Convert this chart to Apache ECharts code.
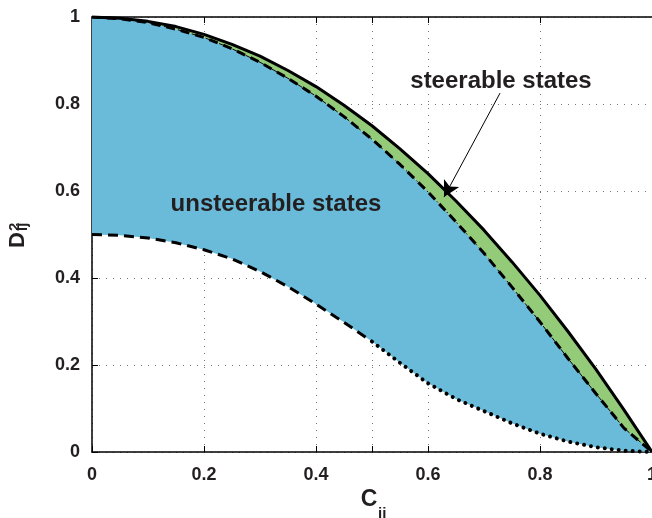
<!DOCTYPE html>
<html><head><meta charset="utf-8">
<script src="https://cdn.jsdelivr.net/npm/echarts@6/dist/echarts.min.js"></script>
<style>html,body{margin:0;padding:0;background:#fff}#c{width:652px;height:518px}</style>
</head><body><div id="c"></div>
<script>
// C_ij sample points
const cValues = [0,0.05,0.1,0.15,0.2,0.25,0.3,0.35,0.4,0.45,0.5,0.55,0.6,0.65,0.7,0.75,0.8,0.85,0.9,0.95,1];
// upper solid boundary (steerable limit)
const upperSolid = [1,0.997,0.99,0.978,0.96,0.937,0.91,0.877,0.84,0.797,0.75,0.697,0.64,0.577,0.51,0.437,0.36,0.277,0.19,0.097,0];
// dashed boundary between unsteerable and steerable
const upperDashed = [1,0.996,0.987,0.972,0.953,0.927,0.896,0.859,0.818,0.771,0.719,0.661,0.598,0.529,0.457,0.379,0.299,0.215,0.134,0.055,0];
// lower boundary (dashed for C<=0.5, dotted for C>=0.5)
const lowerBound = [0.5,0.498,0.492,0.481,0.465,0.444,0.415,0.38,0.34,0.298,0.254,0.205,0.158,0.122,0.094,0.066,0.042,0.024,0.011,0.003,0];
const splitIndex = 10;
const xTickLabels = ['0','0.2','0.4','0.6','0.8','1'];
const yTickLabels = ['0','0.2','0.4','0.6','0.8','1'];

const FONT = '"Liberation Sans", Arial, Helvetica, sans-serif';
const TXT = '#231F20';
const pairs = (arr, from, to) => cValues.slice(from, to).map((c, i) => [c, arr[from + i]]);
const fmt = list => v => { const s = String(+v.toFixed(2)); return list.indexOf(s) >= 0 ? s : ''; };

function band(lowArr, upArr, color) {
  return {
    type: 'custom', silent: true, z: 1, data: [0],
    renderItem: function (params, api) {
      const pts = [];
      for (let i = 0; i < cValues.length; i++) pts.push(api.coord([cValues[i], upArr[i]]));
      for (let i = cValues.length - 1; i >= 0; i--) pts.push(api.coord([cValues[i], lowArr[i]]));
      return { type: 'polygon', shape: { points: pts }, style: { fill: color } };
    }
  };
}

const gridDots = { show: true, lineStyle: { color: '#777', width: 1, type: [1, 6] } };
const frame = { show: true, onZero: false, lineStyle: { color: '#000', width: 1.5 } };
const tick = { show: true, inside: true, length: 6, lineStyle: { color: '#000', width: 1 } };

const chart = echarts.init(document.getElementById('c'), null, { renderer: 'canvas' });
chart.setOption({
  animation: false,
  backgroundColor: '#fff',
  grid: { left: 92, right: 0, top: 17, bottom: 66, containLabel: false, outerBoundsMode: 'none' },
  xAxis: [
    { type: 'value', position: 'bottom', min: 0, max: 1, interval: 0.2,
      axisLine: frame, axisTick: tick, splitLine: gridDots,
      axisLabel: { fontSize: 18, fontWeight: 'bold', color: TXT, fontFamily: FONT, margin: 14, formatter: fmt(xTickLabels) } },
    { type: 'value', position: 'top', min: 0, max: 1, interval: 0.2,
      axisLine: frame, axisTick: tick, splitLine: { show: false }, axisLabel: { show: false } },
    { type: 'value', position: 'bottom', min: 0, max: 1, interval: 0.5,
      axisLine: { show: false }, axisTick: tick, splitLine: gridDots, axisLabel: { show: false } },
    { type: 'value', position: 'top', min: 0, max: 1, interval: 0.5,
      axisLine: { show: false }, axisTick: tick, splitLine: { show: false }, axisLabel: { show: false } }
  ],
  yAxis: [
    { type: 'value', position: 'left', min: 0, max: 1, interval: 0.2,
      axisLine: frame, axisTick: tick, splitLine: gridDots,
      axisLabel: { fontSize: 18, fontWeight: 'bold', color: TXT, fontFamily: FONT, margin: 12, formatter: fmt(yTickLabels) } }
  ],
  series: [
    band(lowerBound, upperDashed, '#69BBD9'),
    band(upperDashed, upperSolid, '#94CB78'),
    { type: 'line', data: pairs(upperDashed, 0, cValues.length), showSymbol: false, silent: true, z: 3,
      lineStyle: { color: '#000', width: 1, type: [7, 3, 1.5, 3] } },
    { type: 'line', data: pairs(upperDashed, 0, cValues.length), showSymbol: false, silent: true, z: 4,
      lineStyle: { color: '#000', width: 3, type: [9, 6] } },
    { type: 'line', data: pairs(upperSolid, 0, cValues.length), showSymbol: false, silent: true, z: 4,
      lineStyle: { color: '#000', width: 3, type: 'solid' },
      markLine: { silent: true, symbol: ['none', 'arrow'], symbolSize: [13, 16], animation: false,
        label: { show: false }, lineStyle: { color: '#000', width: 1, type: 'solid' },
        data: [[{ coord: [0.7286, 0.825] }, { coord: [0.6286, 0.586] }]] } },
    { type: 'line', data: pairs(lowerBound, 0, splitIndex + 1), showSymbol: false, silent: true, z: 4,
      lineStyle: { color: '#000', width: 3, type: [10, 6] } },
    { type: 'line', data: pairs(lowerBound, splitIndex, cValues.length), showSymbol: false, silent: true, z: 4,
      lineStyle: { color: '#000', width: 4, type: [0.01, 7], cap: 'round' } }
  ],
  graphic: [
    { type: 'text', x: 369, y: 500, silent: true,
      style: { text: 'C', font: 'bold 23px ' + FONT, fill: TXT, align: 'center', verticalAlign: 'middle', textAlign: 'center', textVerticalAlign: 'middle' } },
    { type: 'text', x: 378, y: 514, silent: true,
      style: { text: 'ij', font: 'bold 15px ' + FONT, fill: TXT, align: 'left', verticalAlign: 'middle', textAlign: 'left', textVerticalAlign: 'middle' } },
    { type: 'text', x: 18, y: 240, rotation: Math.PI / 2, silent: true,
      style: { text: 'D', font: 'bold 22px ' + FONT, fill: TXT, align: 'center', verticalAlign: 'middle', textAlign: 'center', textVerticalAlign: 'middle' } },
    { type: 'text', x: 15, y: 231, rotation: Math.PI / 2, silent: true,
      style: { text: '2', font: 'bold 15px ' + FONT, fill: TXT, align: 'left', verticalAlign: 'middle', textAlign: 'left', textVerticalAlign: 'middle' } },
    { type: 'text', x: 23, y: 231, rotation: Math.PI / 2, silent: true,
      style: { text: 'ij', font: 'bold 15px ' + FONT, fill: TXT, align: 'left', verticalAlign: 'middle', textAlign: 'left', textVerticalAlign: 'middle' } },
    { type: 'text', x: 501, y: 81, silent: true,
      style: { text: 'steerable states', font: 'bold 24px ' + FONT, fill: TXT, align: 'center', verticalAlign: 'middle', textAlign: 'center', textVerticalAlign: 'middle' } },
    { type: 'text', x: 276, y: 204, silent: true, z: 10,
      style: { text: 'unsteerable states', font: 'bold 24px ' + FONT, fill: TXT, align: 'center', verticalAlign: 'middle', textAlign: 'center', textVerticalAlign: 'middle' } }
  ]
});
</script>
</body></html>
